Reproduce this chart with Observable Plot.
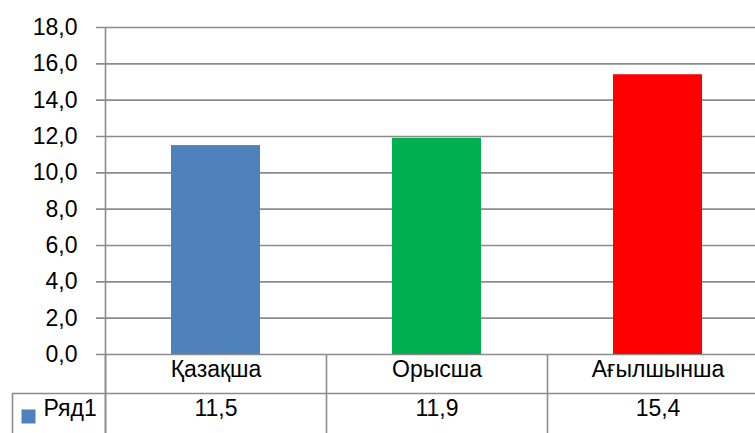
<!DOCTYPE html>
<html><head><meta charset="utf-8">
<script src="https://cdn.jsdelivr.net/npm/d3@7"></script>
<script src="https://cdn.jsdelivr.net/npm/@observablehq/plot@0.6"></script>
<style>body{margin:0;background:#fff;overflow:hidden}</style>
</head><body><div id="chart"></div>
<script>
const categories = ["Қазақша", "Орысша", "Ағылшынша"];
const values = [11.5, 11.9, 15.4];
const seriesName = "Ряд1";
const colors = ["#4F81BD", "#00B050", "#FF0000"];
const yTicks = [0, 2, 4, 6, 8, 10, 12, 14, 16, 18];
const fmt = d => d.toFixed(1).replace(".", ",");

const data = categories.map((c, i) => ({category: c, value: values[i], color: colors[i]}));
const grid = "#8c8c8c";
const sw = 1.6;
const half = -110.5; // from band centre to band edge

const chart = Plot.plot({
  width: 755, height: 433,
  marginTop: 27, marginBottom: 79, marginLeft: 105, marginRight: 0,
  style: {fontFamily: "'Liberation Sans', Arial, sans-serif", fontSize: "23px", color: "#000", background: "#fff", overflow: "visible"},
  x: {domain: categories, range: [105, 768], padding: 0, axis: null},
  y: {domain: [0, 18], axis: null},
  color: {type: "identity"},
  marks: [
    Plot.ruleY(yTicks, {stroke: grid, strokeWidth: sw, insetLeft: -9}),
    Plot.barY(data, {x: "category", y: "value", fill: "color", insetLeft: 66, insetRight: 66}),
    Plot.text(yTicks, {frameAnchor: "left", y: d => d, text: fmt, textAnchor: "end", dx: -28, fill: "#000"}),
    // axis line (full height, through the table)
    Plot.ruleX([categories[0]], {insetBottom: -79, dx: half, stroke: grid, strokeWidth: sw}),
    // table column dividers
    Plot.ruleX(categories, {y1: 0, y2: 0, insetBottom: -79, dx: half, stroke: grid, strokeWidth: sw}),
    // table row divider
    Plot.ruleY([0], {dy: 39, insetLeft: -93, stroke: grid, strokeWidth: sw}),
    // table left border
    Plot.ruleX([categories[0]], {y1: 0, y2: 0, insetTop: 39, insetBottom: -79, dx: half - 93, stroke: grid, strokeWidth: sw}),
    // category row
    Plot.text(categories, {x: d => d, frameAnchor: "bottom", dy: 22, text: d => d, fill: "#000"}),
    // value row
    Plot.text(data, {x: "category", frameAnchor: "bottom", dy: 61, text: d => fmt(d.value), fill: "#000"}),
    // legend key
    Plot.dot([seriesName], {frameAnchor: "bottom-left", symbol: "square", r: 7.9, fill: colors[0], dx: -77, dy: 62}),
    Plot.text([seriesName], {frameAnchor: "bottom-left", text: d => d, textAnchor: "start", dx: -62, dy: 61, fill: "#000"})
  ]
});
document.getElementById("chart").appendChild(chart);
</script>
</body></html>
